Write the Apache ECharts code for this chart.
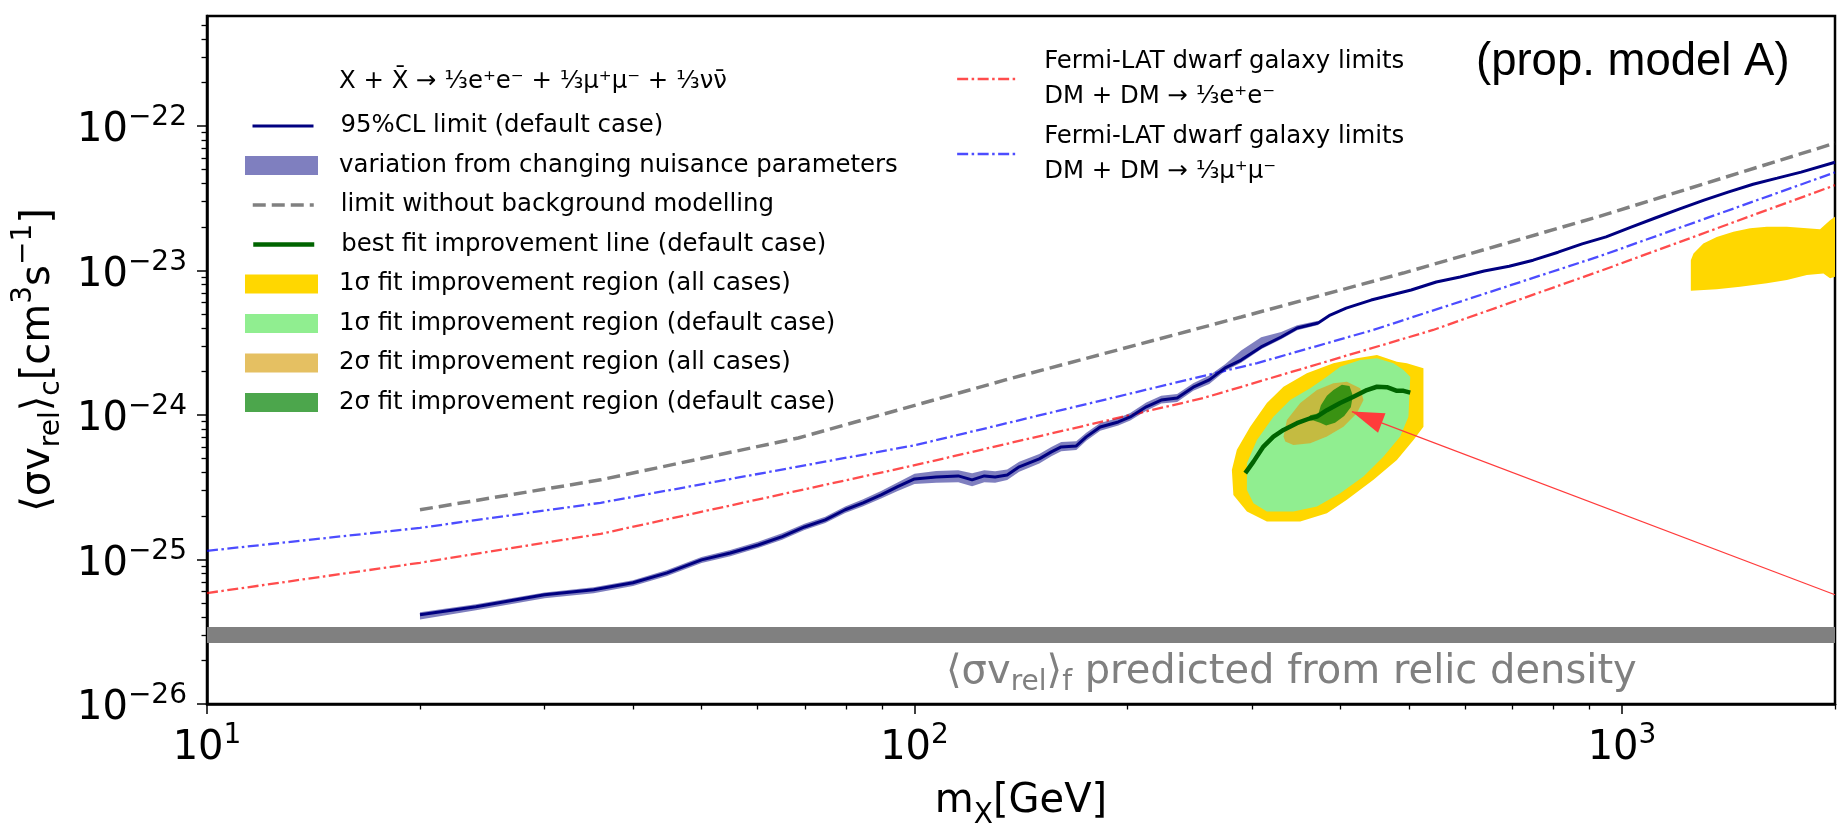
<!DOCTYPE html>
<html><head><meta charset="utf-8">
<script src="https://cdn.jsdelivr.net/npm/echarts@6/dist/echarts.min.js"></script>
<style>html,body{margin:0;padding:0;background:#fff;overflow:hidden}#c{width:1837px;height:824px}</style>
</head><body><div id="c"></div>
<script>
// ---------------- data (x in GeV, y in cm^3 s^-1) ----------------
const Y_UNIT = 1e-26;            // y values are plotted in units of 1e-26
const X_MIN = 10, X_MAX = 2000, Y_MIN = 1e-26, Y_MAX = 5.78e-22;

const X_MAJOR = [10, 100, 1000];
const X_MAJOR_EXP = ['1', '2', '3'];
const X_MINOR = [20, 30, 40, 50, 60, 70, 80, 90, 200, 300, 400, 500, 600, 700, 800, 900, 2000];
const Y_MAJOR = [1e-26, 1e-25, 1e-24, 1e-23, 1e-22];
const Y_MAJOR_EXP = ['\u221226', '\u221225', '\u221224', '\u221223', '\u221222'];
const Y_MINOR = [2e-26, 3e-26, 4e-26, 5e-26, 6e-26, 7e-26, 8e-26, 9e-26,
  2e-25, 3e-25, 4e-25, 5e-25, 6e-25, 7e-25, 8e-25, 9e-25,
  2e-24, 3e-24, 4e-24, 5e-24, 6e-24, 7e-24, 8e-24, 9e-24,
  2e-23, 3e-23, 4e-23, 5e-23, 6e-23, 7e-23, 8e-23, 9e-23,
  2e-22, 3e-22, 4e-22, 5e-22];

// 95%CL limit (default case)
const NAVY_X = [20, 24, 30, 35.2, 40, 44.7, 50, 54.9, 60.1, 65, 69.9, 74.8, 79.8, 84.6, 89.7, 94.5, 100, 107.3, 115.3, 120.6,
  125.5, 130, 135.2, 140.6, 150.1, 156.1, 161.2, 169.3, 174.9, 183, 194.1, 201.8, 212.6, 223.2, 235.1, 247.7, 261, 274.8, 289.5, 309,
  329.8, 347.4, 372, 386.8, 407.5, 442, 477.9, 503.5, 546.3, 590.4, 638.5, 692.6, 748.9, 812.2, 878.4, 949.5, 1030, 1114, 1204, 1306,
  1412, 1532, 1657, 1791, 2000];
const NAVY_Y = [4.15e-26, 4.71e-26, 5.70e-26, 6.17e-26, 6.90e-26, 8.09e-26, 9.95e-26, 1.11e-25, 1.26e-25, 1.44e-25,
  1.68e-25, 1.88e-25, 2.21e-25, 2.47e-25, 2.80e-25, 3.18e-25, 3.61e-25, 3.73e-25, 3.79e-25, 3.56e-25,
  3.79e-25, 3.73e-25, 3.85e-25, 4.38e-25, 4.97e-25, 5.56e-25, 6.02e-25, 6.11e-25, 7.06e-25, 8.27e-25,
  8.96e-25, 9.70e-25, 1.14e-24, 1.27e-24, 1.31e-24, 1.56e-24, 1.75e-24, 2.12e-24, 2.40e-24, 2.96e-24,
  3.47e-24, 4.00e-24, 4.34e-24, 4.92e-24, 5.50e-24, 6.25e-24, 6.88e-24, 7.33e-24, 8.33e-24, 9.02e-24,
  9.92e-24, 1.07e-23, 1.18e-23, 1.34e-23, 1.53e-23, 1.71e-23, 2.00e-23, 2.31e-23, 2.66e-23, 3.07e-23,
  3.49e-23, 3.96e-23, 4.36e-23, 4.80e-23, 5.62e-23];

// variation from changing nuisance parameters (band)
const BAND_X = [20, 24, 30, 35.2, 40, 44.7, 50, 54.9, 60.1, 65, 69.9, 74.8, 79.8, 84.6, 89.7, 94.5, 100, 107.3, 115.3, 120.6,
  125.5, 130, 135.2, 140.6, 150.1, 156.1, 161.2, 169.3, 174.9, 183, 194.1, 201.8, 212.6, 223.2, 235.1, 247.7, 261, 274.8, 289.5, 309,
  329.8, 347.4, 372];
const BAND_LO = [3.85e-26, 4.45e-26, 5.40e-26, 5.85e-26, 6.55e-26, 7.70e-26, 9.45e-26, 1.055e-25, 1.20e-25, 1.37e-25,
  1.60e-25, 1.79e-25, 2.10e-25, 2.34e-25, 2.64e-25, 2.97e-25, 3.33e-25, 3.40e-25, 3.42e-25, 3.22e-25,
  3.42e-25, 3.40e-25, 3.55e-25, 4.05e-25, 4.62e-25, 5.18e-25, 5.62e-25, 5.72e-25, 6.65e-25, 7.80e-25,
  8.45e-25, 9.15e-25, 1.07e-24, 1.20e-24, 1.23e-24, 1.47e-24, 1.64e-24, 2.02e-24, 2.30e-24, 2.85e-24,
  3.35e-24, 3.86e-24, 4.20e-24];
const BAND_HI = [4.32e-26, 4.90e-26, 5.92e-26, 6.42e-26, 7.20e-26, 8.45e-26, 1.04e-25, 1.165e-25, 1.33e-25, 1.52e-25,
  1.77e-25, 1.98e-25, 2.33e-25, 2.61e-25, 2.98e-25, 3.40e-25, 3.92e-25, 4.10e-25, 4.15e-25, 3.95e-25,
  4.15e-25, 4.08e-25, 4.20e-25, 4.75e-25, 5.38e-25, 6.00e-25, 6.50e-25, 6.58e-25, 7.55e-25, 8.80e-25,
  9.55e-25, 1.035e-24, 1.22e-24, 1.36e-24, 1.40e-24, 1.66e-24, 1.88e-24, 2.25e-24, 2.80e-24, 3.45e-24,
  3.75e-24, 4.18e-24, 4.50e-24];

// limit without background modelling
const GRAY_X = [20, 36, 68.5, 134.4, 289.5, 490.6, 931.3, 2000];
const GRAY_Y = [2.21e-25, 3.56e-25, 6.94e-25, 1.75e-24, 4.77e-24, 9.61e-24, 2.38e-23, 7.62e-23];

// Fermi-LAT dwarf galaxy limits
const BLUE_X = [10, 20, 36, 100.6, 305.1, 444.9, 931.3, 2000];
const BLUE_Y = [1.148e-25, 1.656e-25, 2.47e-25, 6.21e-25, 2.29e-24, 3.88e-24, 1.26e-23, 4.78e-23];
const RED_X = [10, 20, 36, 99.2, 255.9, 540.9, 931.3, 2000];
const RED_Y = [5.86e-26, 9.49e-26, 1.505e-25, 4.45e-25, 1.31e-24, 3.88e-24, 9.92e-24, 3.90e-23];

// best fit improvement line (default case)
const BEST_X = [293.4, 301.4, 311.3, 321.6, 332.3, 347.1, 362.5, 370.5, 382.7, 399.6, 417.3, 435.9, 450.4, 465.3, 480.6, 491.1, 502.0];
const BEST_Y = [3.96e-25, 4.76e-25, 6.05e-25, 7.09e-25, 7.89e-25, 8.78e-25, 9.50e-25, 9.75e-25, 1.08e-24, 1.21e-24,
  1.34e-24, 1.49e-24, 1.57e-24, 1.56e-24, 1.47e-24, 1.47e-24, 1.43e-24];

// 1 sigma region (all cases) — two islands
const Y1A_X = [280.9, 285.5, 298.2, 314.8, 332.3, 358.5, 390.9, 421.9, 450.4, 480.6, 496.5, 524.0, 524.0, 507.3, 480.6,
  445.4, 408.4, 382.7, 350.9, 314.8, 295.0, 282.3];
const Y1A_Y = [4.17e-25, 5.74e-25, 8.31e-25, 1.21e-24, 1.57e-24, 1.945e-24, 2.28e-24, 2.47e-24, 2.60e-24, 2.34e-24, 2.28e-24,
  2.11e-24, 8.31e-25, 6.73e-25, 4.89e-25, 3.56e-25, 2.59e-25, 2.09e-25, 1.83e-25, 1.83e-25, 2.15e-25, 2.80e-25];
const Y1B_X = [1251, 1262, 1303, 1361, 1437, 1517, 1602, 1710, 1825, 1905, 1968, 2000, 2000, 1968, 1926, 1825, 1710, 1602, 1469, 1361, 1251];
const Y1B_Y = [1.18e-23, 1.315e-23, 1.54e-23, 1.71e-23, 1.855e-23, 1.96e-23, 2.01e-23, 2.01e-23, 1.96e-23, 1.93e-23, 2.23e-23,
  2.36e-23, 9.06e-24, 8.83e-24, 9.56e-24, 9.31e-24, 8.60e-24, 8.16e-24, 7.73e-24, 7.41e-24, 7.25e-24];

// 1 sigma region (default case)
const G1_X = [295.0, 295.0, 304.8, 321.6, 339.6, 362.5, 382.7, 399.6, 426.5, 450.4, 475.3, 491.1, 502.0, 499.0, 485.8, 460.2,
  431.1, 399.6, 370.5, 343.2, 314.8, 301.4, 295.0];
const G1_Y = [3.96e-25, 4.64e-25, 6.73e-25, 9.75e-25, 1.27e-24, 1.53e-24, 1.84e-24, 2.16e-24, 2.40e-24, 2.47e-24, 2.28e-24,
  2.05e-24, 1.84e-24, 9.75e-25, 7.09e-25, 5.16e-25, 3.75e-25, 2.88e-25, 2.33e-25, 2.15e-25, 2.15e-25, 2.45e-25, 3.03e-25];

// 2 sigma region (all cases)
const T2_X = [332.3, 336.0, 350.9, 370.5, 390.9, 408.4, 426.5, 431.1, 421.9, 403.9, 382.7, 362.5, 343.2, 334.2];
const T2_Y = [7.09e-25, 9.25e-25, 1.21e-24, 1.49e-24, 1.66e-24, 1.70e-24, 1.53e-24, 1.27e-24, 1.03e-24, 8.31e-25, 7.09e-25,
  6.38e-25, 6.21e-25, 6.55e-25];

// 2 sigma region (default case)
const D2_X = [358.5, 362.5, 372.4, 375.3, 382.7, 390.9, 401.8, 411.9, 416.5, 413.7, 404.9, 393.0, 381.8, 374.4, 366.4];
const D2_Y = [9.15e-25, 9.97e-25, 1.03e-24, 1.17e-24, 1.36e-24, 1.49e-24, 1.62e-24, 1.59e-24, 1.36e-24, 1.13e-24, 9.86e-25,
  8.86e-25, 8.45e-25, 8.86e-25, 9.15e-25];

// relic density line and arrow annotation
const RELIC_X = [10, 2000];
const RELIC_Y = [3.0e-26, 3.0e-26];
const ARROW_FROM = [2000, 5.70e-26];
const ARROW_TO = [415.1, 1.056e-24];

// ---------------- names ----------------
const N_NAVY = '95%CL limit (default case)';
const N_BAND = 'variation from changing nuisance parameters';
const N_GRAY = 'limit without background modelling';
const N_BEST = 'best fit improvement line (default case)';
const N_Y1 = '1\u03c3 fit improvement region (all cases)';
const N_G1 = '1\u03c3 fit improvement region (default case)';
const N_T2 = '2\u03c3 fit improvement region (all cases)';
const N_D2 = '2\u03c3 fit improvement region (default case)';
const N_RED = 'Fermi-LAT dwarf galaxy limits\nDM + DM \u2192 \u2153e\u207ae\u207b';
const N_BLUE = 'Fermi-LAT dwarf galaxy limits\nDM + DM \u2192 \u2153\u03bc\u207a\u03bc\u207b';

// ---------------- build ----------------
const FONT = 'DejaVu Sans';
const toPts = (xs, ys) => xs.map((x, i) => [x, ys[i] / Y_UNIT]);

function polySeries(name, xs, ys, color, z) {
  return {
    type: 'custom', name, z, silent: true, coordinateSystem: 'cartesian2d',
    xAxisIndex: 0, yAxisIndex: 0, itemStyle: { color },
    data: [[xs[0], ys[0] / Y_UNIT]],
    renderItem: function (params, api) {
      const pts = xs.map((x, i) => api.coord([x, ys[i] / Y_UNIT]));
      return { type: 'polygon', shape: { points: pts }, style: { fill: color } };
    }
  };
}
function lineSeries(name, xs, ys, style, z) {
  return {
    type: 'line', name, z, data: toPts(xs, ys), showSymbol: false, symbol: 'none',
    xAxisIndex: 0, yAxisIndex: 0, silent: true, emphasis: { disabled: true },
    lineStyle: style, itemStyle: { color: style.color }
  };
}

const C_YELLOW = 'rgb(255,215,0)';
const C_LGREEN = 'rgb(144,238,144)';
const C_TAN = 'rgba(218,165,32,0.7)';
const C_DGREEN = 'rgba(0,128,0,0.7)';
const C_BAND = 'rgba(0,0,128,0.5)';
const C_RED = 'rgba(255,0,0,0.7)';
const C_BLUE = 'rgba(0,0,255,0.7)';

const series = [
  lineSeries('relic', RELIC_X, RELIC_Y, { color: '#808080', width: 16, type: 'solid' }, 1),
  polySeries(N_BAND, BAND_X.concat(BAND_X.slice().reverse()), BAND_HI.concat(BAND_LO.slice().reverse()), C_BAND, 2),
  polySeries(N_Y1, Y1A_X, Y1A_Y, C_YELLOW, 2),
  polySeries(N_Y1, Y1B_X, Y1B_Y, C_YELLOW, 2),
  polySeries(N_G1, G1_X, G1_Y, C_LGREEN, 3),
  polySeries(N_T2, T2_X, T2_Y, C_TAN, 4),
  polySeries(N_D2, D2_X, D2_Y, C_DGREEN, 5),
  lineSeries(N_GRAY, GRAY_X, GRAY_Y, { color: '#808080', width: 3.5, type: [13, 6] }, 6),
  lineSeries(N_RED, RED_X, RED_Y, { color: C_RED, width: 2.3, type: [11, 3.5, 2.5, 3.5] }, 6),
  lineSeries(N_BLUE, BLUE_X, BLUE_Y, { color: C_BLUE, width: 2.3, type: [11, 3.5, 2.5, 3.5] }, 6),
  lineSeries(N_NAVY, NAVY_X, NAVY_Y, { color: '#000080', width: 3, type: 'solid' }, 7),
  lineSeries(N_BEST, BEST_X, BEST_Y, { color: '#006400', width: 4.5, type: 'solid' }, 8),
  {
    type: 'line', name: 'arrow', data: [], z: 9, xAxisIndex: 0, yAxisIndex: 0,
    markLine: {
      silent: true, animation: false,
      symbol: ['none', 'triangle'], symbolSize: [21, 32], symbolOffset: [[0, 0], [0, 16]],
      lineStyle: { color: '#ff3b3b', width: 1.2, type: 'solid' },
      label: { show: false }, emphasis: { disabled: true },
      data: [[{ coord: [ARROW_FROM[0], ARROW_FROM[1] / Y_UNIT] }, { coord: [ARROW_TO[0], ARROW_TO[1] / Y_UNIT] }]]
    }
  }
];

// legends (one per entry to mimic matplotlib layout)
function legendItem(name, kind, cy, lineW, left, iw, textPadLeft) {
  const isLine = kind === 'line';
  const o = {
    show: true, selectedMode: false, padding: 0, orient: 'vertical',
    data: [isLine ? { name } : { name, icon: 'rect' }],
    left: left, top: cy - 9.5, itemWidth: iw, itemHeight: 19,
    textStyle: { fontFamily: FONT, fontSize: 24.4, color: '#000', lineHeight: 19, padding: [0, 0, 0, textPadLeft] }
  };
  if (isLine) { o.itemStyle = { opacity: 0 }; o.lineStyle = { width: lineW }; }
  return o;
}
const LEFT_ROWS = [
  [N_NAVY, 'line', 3], [N_BAND, 'rect'], [N_GRAY, 'line', 3.5], [N_BEST, 'line', 4.5],
  [N_Y1, 'rect'], [N_G1, 'rect'], [N_T2, 'rect'], [N_D2, 'rect']
];
const legends = LEFT_ROWS.map((r, i) => r[1] === 'line'
  ? legendItem(r[0], 'line', 123.5 + 39.5 * i, r[2], 251, 61, 22)
  : legendItem(r[0], 'rect', 123.5 + 39.5 * i, 0, 245, 73, 16));
[[N_RED, 79], [N_BLUE, 154]].forEach(([name, cy]) => {
  legends.push({
    show: true, selectedMode: false, padding: 0,
    data: [{ name }], left: 956, top: cy - 49.5, itemWidth: 59, itemHeight: 19,
    itemStyle: { opacity: 0 }, lineStyle: { width: 2.3 },
    textStyle: { fontFamily: FONT, fontSize: 24.4, color: '#000', lineHeight: 35, padding: [0, 0, 29, 23] }
  });
});

const tickRich = {
  b: { fontFamily: FONT, fontSize: 40, lineHeight: 54, color: '#000' },
  s: { fontFamily: FONT, fontSize: 28, lineHeight: 25, verticalAlign: 'top', color: '#000' }
};
const near = (a, b) => Math.abs(Math.log10(a) - Math.log10(b)) < 1e-6;

const titleRich = {
  t: { fontFamily: FONT, fontSize: 40, lineHeight: 56, color: '#000' },
  sb: { fontFamily: FONT, fontSize: 28, lineHeight: 28, verticalAlign: 'bottom', color: '#000' },
  sp: { fontFamily: FONT, fontSize: 28, lineHeight: 28, verticalAlign: 'top', color: '#000' }
};

const option = {
  animation: false,
  backgroundColor: '#fff',
  grid: { left: 207, right: 2, top: 16, bottom: 120, show: true, borderColor: '#000', borderWidth: 2.5,
    backgroundColor: 'transparent', containLabel: false, outerBoundsMode: 'none' },
  title: [
    { text: 'X + X\u0304 \u2192 \u2153e\u207ae\u207b + \u2153\u03bc\u207a\u03bc\u207b + \u2153\u03bd\u03bd\u0304', left: 339, top: 67, padding: 0,
      textStyle: { fontFamily: FONT, fontSize: 24.4, fontWeight: 'normal', color: '#000', lineHeight: 30 } },
    { text: '(prop. model A)', left: 1476, top: 37, padding: 0,
      textStyle: { fontFamily: 'Liberation Sans', fontSize: 45.5, fontWeight: 'normal', color: '#000', lineHeight: 50 } },
    { text: '{t|\u27e8\u03c3v}{s|rel}{t|\u27e9}{s|f}{t| predicted from relic density}', left: 946, top: 649, padding: 0,
      textStyle: { fontWeight: 'normal', rich: {
        t: { fontFamily: FONT, fontSize: 40, fontWeight: 'normal', lineHeight: 48, color: '#808080' },
        s: { fontFamily: FONT, fontSize: 28, fontWeight: 'normal', lineHeight: 28, verticalAlign: 'bottom', color: '#808080' } } } }
  ],
  legend: legends,
  xAxis: [
    {
      type: 'log', logBase: 10, min: X_MIN, max: X_MAX, gridIndex: 0, position: 'bottom',
      axisLine: { show: true, lineStyle: { color: '#000', width: 2.5 } },
      axisTick: { show: true, length: 10, lineStyle: { color: '#000', width: 1.5 }, customValues: X_MAJOR },
      axisLabel: { show: true, margin: 18, customValues: X_MAJOR, rich: tickRich,
        formatter: v => { const i = X_MAJOR.findIndex(t => near(t, v)); return i < 0 ? '' : '{b|10}{s|' + X_MAJOR_EXP[i] + '}'; } },
      splitLine: { show: false }, minorTick: { show: false },
      name: '{t|m}{sb|X}{t|[GeV]}', nameLocation: 'middle', nameGap: 70,
      nameTextStyle: { rich: titleRich }
    },
    {
      type: 'log', logBase: 10, min: X_MIN, max: X_MAX, gridIndex: 0, position: 'bottom',
      axisLine: { show: false },
      axisTick: { show: true, length: 5.5, lineStyle: { color: '#000', width: 1.3 }, customValues: X_MINOR },
      axisLabel: { show: false }, splitLine: { show: false }
    }
  ],
  yAxis: [
    {
      type: 'log', logBase: 10, min: Y_MIN / Y_UNIT, max: Y_MAX / Y_UNIT, gridIndex: 0, position: 'left',
      axisLine: { show: true, lineStyle: { color: '#000', width: 2.5 } },
      axisTick: { show: true, length: 10, lineStyle: { color: '#000', width: 1.5 }, customValues: Y_MAJOR.map(v => v / Y_UNIT) },
      axisLabel: { show: true, margin: 20, customValues: Y_MAJOR.map(v => v / Y_UNIT), rich: tickRich, padding: [10, 0, 0, 0],
        formatter: v => { const i = Y_MAJOR.findIndex(t => near(t / Y_UNIT, v)); return i < 0 ? '' : '{b|10}{s|' + Y_MAJOR_EXP[i] + '}'; } },
      splitLine: { show: false }, minorTick: { show: false },
      name: '{t|\u27e8\u03c3v}{sb|rel}{t|\u27e9}{sb|c}{t|[cm}{sp|3}{t|s}{sp|\u22121}{t|]}',
      nameLocation: 'middle', nameGap: 140, nameRotate: 90,
      nameTextStyle: { rich: titleRich }
    },
    {
      type: 'log', logBase: 10, min: Y_MIN / Y_UNIT, max: Y_MAX / Y_UNIT, gridIndex: 0, position: 'left',
      axisLine: { show: false },
      axisTick: { show: true, length: 5.5, lineStyle: { color: '#000', width: 1.3 }, customValues: Y_MINOR.map(v => v / Y_UNIT) },
      axisLabel: { show: false }, splitLine: { show: false }
    }
  ],
  series: series
};

const chart = echarts.init(document.getElementById('c'), null, { renderer: 'canvas' });
chart.setOption(option);
</script>
</body></html>
